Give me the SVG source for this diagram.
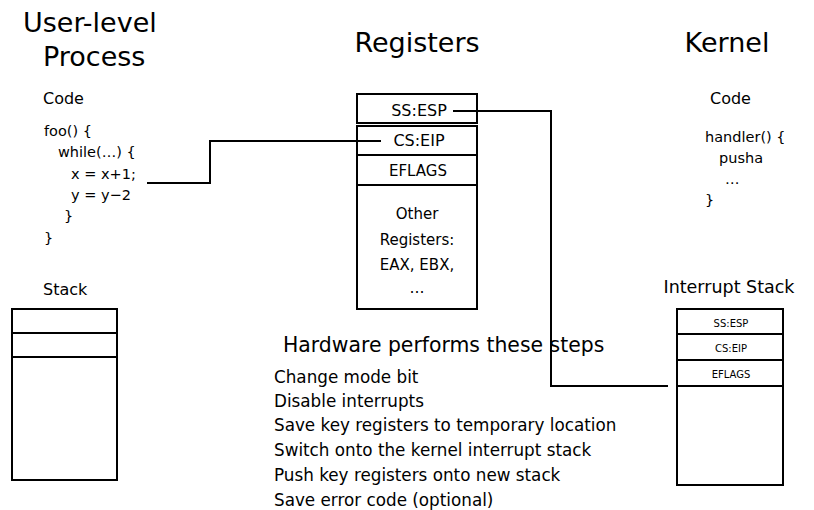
<svg xmlns="http://www.w3.org/2000/svg" width="814" height="510" viewBox="0 0 814 510">
<style>
text{font-family:"DejaVu Sans","Noto Sans",sans-serif;fill:#000}
.h{font-size:27px}
.m{font-size:16px}
.st{font-size:16.8px}
.c{font-size:14.5px}
.r{font-size:15px;text-anchor:middle}
.s{font-size:10px;text-anchor:middle}
.box{fill:#fff;stroke:#000;stroke-width:2}
.ln{fill:none;stroke:#000;stroke-width:2}
</style>
<rect width="814" height="510" fill="#fff"/>
<g id="titles">
<text class="h" x="23" y="32">User-level</text>
<text class="h" x="43" y="66">Process</text>
<text class="h" x="417" y="52" text-anchor="middle">Registers</text>
<text class="h" x="727" y="52" text-anchor="middle">Kernel</text>
</g>
<g id="user-code">
<text class="m" x="43" y="104">Code</text>
<text class="c" x="44" y="136">foo() {</text>
<text class="c" x="58" y="157">while(…) {</text>
<text class="c" x="71" y="179">x = x+1;</text>
<text class="c" x="71" y="200">y = y−2</text>
<text class="c" x="64" y="221">}</text>
<text class="c" x="44" y="243">}</text>
</g>
<g id="kernel-code">
<text class="m" x="710" y="104">Code</text>
<text class="c" x="705" y="142">handler() {</text>
<text class="c" x="719" y="163">pusha</text>
<text class="c" x="725" y="184">…</text>
<text class="c" x="705" y="205">}</text>
</g>
<g id="registers">
<rect class="box" x="357" y="94" width="120" height="29"/>
<rect class="box" x="357" y="126" width="120" height="29"/>
<rect class="box" x="357" y="155" width="120" height="30"/>
<rect class="box" x="357" y="185" width="120" height="124"/>
<text class="r" x="419" y="116" style="font-size:16px">SS:ESP</text>
<text class="r" x="419" y="146" style="font-size:16px">CS:EIP</text>
<text class="r" x="418" y="176">EFLAGS</text>
<text class="r" x="417" y="219">Other</text>
<text class="r" x="417" y="245">Registers:</text>
<text class="r" x="417" y="270">EAX, EBX,</text>
<text class="r" x="417" y="293">…</text>
</g>
<g id="user-stack">
<text class="m" x="43" y="295">Stack</text>
<rect class="box" x="12" y="309" width="105" height="171"/>
<line class="ln" x1="12" y1="333" x2="117" y2="333"/>
<line class="ln" x1="12" y1="357" x2="117" y2="357"/>
</g>
<g id="interrupt-stack">
<text x="729" y="293" text-anchor="middle" style="font-size:17.5px">Interrupt Stack</text>
<rect class="box" x="677" y="309" width="106" height="176"/>
<line class="ln" x1="677" y1="334" x2="783" y2="334"/>
<line class="ln" x1="677" y1="360" x2="783" y2="360"/>
<line class="ln" x1="677" y1="386" x2="783" y2="386"/>
<text class="s" x="731" y="327">SS:ESP</text>
<text class="s" x="731" y="352">CS:EIP</text>
<text class="s" x="731" y="378">EFLAGS</text>
</g>
<g id="steps">
<text x="283" y="352" style="font-size:20.4px">Hardware performs these steps</text>
<text class="st" x="274" y="383">Change mode bit</text>
<text class="st" x="274" y="407">Disable interrupts</text>
<text class="st" x="274" y="431">Save key registers to temporary location</text>
<text class="st" x="274" y="456">Switch onto the kernel interrupt stack</text>
<text class="st" x="274" y="481">Push key registers onto new stack</text>
<text class="st" x="274" y="506">Save error code (optional)</text>
</g>
<g id="connectors">
<polyline class="ln" points="147,183 210,183 210,141 381,141"/>
<polyline class="ln" points="453,111 551,111 551,386 668,386"/>
</g>
</svg>
